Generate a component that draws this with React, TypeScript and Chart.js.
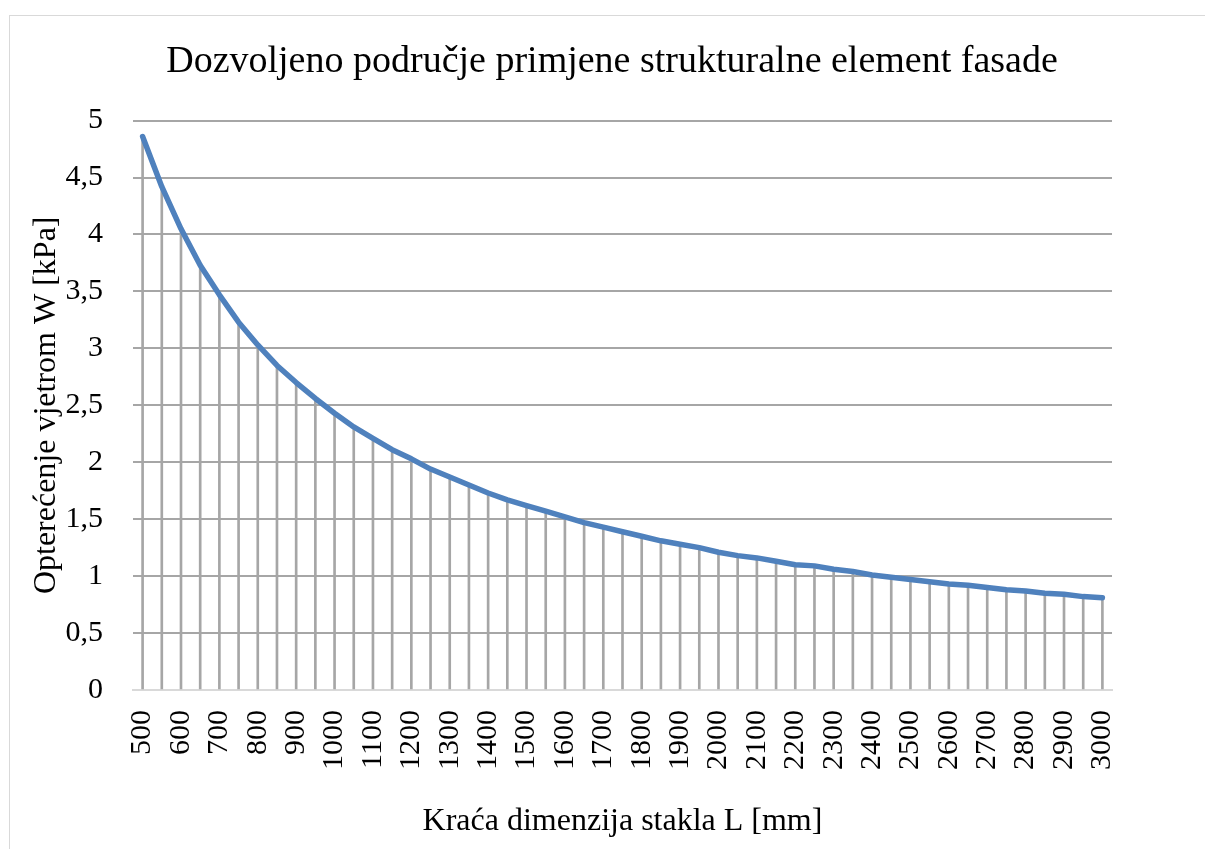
import React, { useEffect, useRef } from "react";
import { Chart, registerables } from "chart.js";

Chart.register(...registerables);

const titleText = "Dozvoljeno područje primjene strukturalne element fasade";
const xTitle = "Kraća dimenzija stakla L [mm]";
const yTitle = "Opterećenje vjetrom W [kPa]";

const lengths: number[] = [
  500, 550, 600, 650, 700, 750, 800, 850, 900, 950,
  1000, 1050, 1100, 1150, 1200, 1250, 1300, 1350, 1400, 1450,
  1500, 1550, 1600, 1650, 1700, 1750, 1800, 1850, 1900, 1950,
  2000, 2050, 2100, 2150, 2200, 2250, 2300, 2350, 2400, 2450,
  2500, 2550, 2600, 2650, 2700, 2750, 2800, 2850, 2900, 2950, 3000,
];

const windLoad: number[] = [
  4.86, 4.42, 4.05, 3.73, 3.47, 3.23, 3.03, 2.85, 2.70, 2.56,
  2.43, 2.31, 2.21, 2.11, 2.03, 1.94, 1.87, 1.80, 1.73, 1.67,
  1.62, 1.57, 1.52, 1.47, 1.43, 1.39, 1.35, 1.31, 1.28, 1.25,
  1.21, 1.18, 1.16, 1.13, 1.10, 1.09, 1.06, 1.04, 1.01, 0.99,
  0.97, 0.95, 0.93, 0.92, 0.90, 0.88, 0.87, 0.85, 0.84, 0.82, 0.81,
];

const yMin = 0;
const yMax = 5;
const yStep = 0.5;

const FONT = "'Liberation Serif', 'Times New Roman', serif";

export default function App() {
  const canvasRef = useRef<HTMLCanvasElement | null>(null);

  useEffect(() => {
    document.body.style.overflow = "hidden";
    const canvas = canvasRef.current;
    if (!canvas) return;
    const chart = new Chart(canvas, {
      type: "bar",
      data: {
        labels: lengths.map(String),
        datasets: [
          {
            type: "line",
            data: windLoad,
            borderColor: "#4f81bd",
            borderWidth: 5.5,
            pointRadius: 0,
            tension: 0,
            borderCapStyle: "round",
            borderJoinStyle: "round",
            order: 0,
          } as any,
          {
            type: "bar",
            data: windLoad,
            backgroundColor: "#a6a6a6",
            barThickness: 2,
            order: 1,
          } as any,
        ],
      },
      options: {
        responsive: false,
        animation: false,
        events: [],
        layout: { padding: { left: 27, right: 8, top: 39, bottom: 0 } },
        plugins: {
          legend: { display: false },
          tooltip: { enabled: false },
          title: {
            display: true,
            text: titleText,
            color: "#000",
            font: { family: FONT, size: 38, weight: "normal" },
            padding: { top: 0, bottom: 36 },
          },
        },
        scales: {
          x: {
            offset: true,
            afterFit: (scale: any) => {
              scale.height = 159;
            },
            grid: { display: false, drawTicks: false },
            border: { display: true, color: "#d9d9d9", width: 2 },
            ticks: {
              autoSkip: false,
              minRotation: 90,
              maxRotation: 90,
              padding: 20,
              color: "#000",
              font: { family: FONT, size: 30 },
              callback: (_v: any, i: number) => (i % 2 === 0 ? lengths[i] : ""),
            },
            title: {
              display: true,
              text: xTitle,
              color: "#000",
              font: { family: FONT, size: 32 },
              padding: { top: 0, bottom: 8 },
            },
          },
          y: {
            min: yMin,
            max: yMax,
            afterFit: (scale: any) => {
              scale.width = 106;
            },
            grid: { color: "#a6a6a6", lineWidth: 2, drawTicks: false },
            border: { display: false },
            ticks: {
              stepSize: yStep,
              padding: 30,
              color: "#000",
              font: { family: FONT, size: 30 },
              callback: (v: any) => String(v).replace(".", ","),
            },
            title: {
              display: true,
              text: yTitle,
              color: "#000",
              font: { family: FONT, size: 32 },
              padding: { top: 0, bottom: 0 },
            },
          },
          ySpacer: {
            position: "right",
            display: true,
            min: yMin,
            max: yMax,
            afterFit: (scale: any) => {
              scale.width = 85;
            },
            grid: { display: false, drawTicks: false },
            border: { display: false },
            ticks: { display: false },
          },
        },
      },
    });
    return () => chart.destroy();
  }, []);

  return (
    <div style={{ position: "fixed", left: 0, top: 0, width: 1205, height: 849, overflow: "hidden", background: "#fff" }}>
      <div
        style={{
          position: "absolute",
          left: 9,
          top: 15,
          width: 1300,
          height: 1000,
          border: "1px solid #d9d9d9",
        }}
      />
      <canvas ref={canvasRef} width={1205} height={849} style={{ position: "absolute", left: 0, top: 0 }} />
    </div>
  );
}
